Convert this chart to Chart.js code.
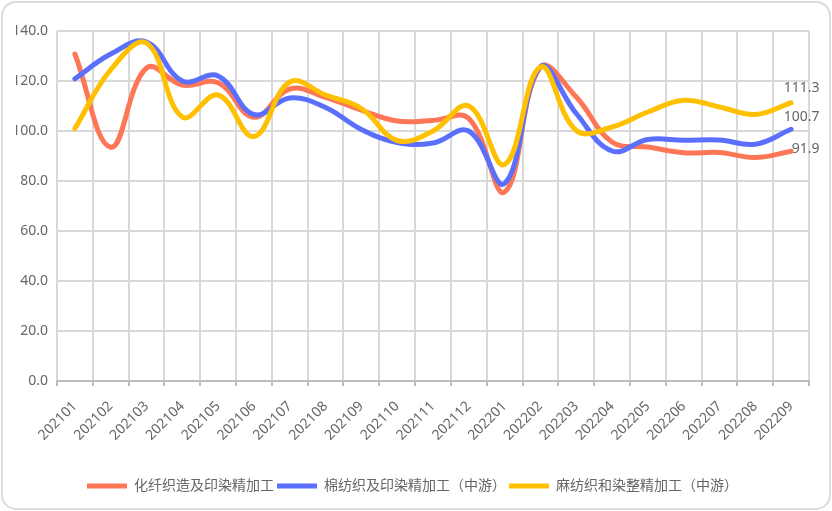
<!DOCTYPE html>
<html>
<head>
<meta charset="utf-8">
<script src="https://cdn.jsdelivr.net/npm/chart.js@4/dist/chart.umd.min.js"></script>
<style>
  body { margin: 0; background: #fff; }
  #wrap { position: relative; width: 832px; height: 511px; }
  #frame {
    position: absolute; left: 1px; top: 1px; width: 830px; height: 509px;
    box-sizing: border-box; border: 2px solid #dcdcdc; border-radius: 15px;
    pointer-events: none;
  }
  canvas { position: absolute; left: 0; top: 0; }
</style>
</head>
<body>
<div id="wrap">
  <canvas id="chart" width="832" height="511"></canvas>
  <div id="frame"></div>
</div>
<script>
// chart values
var months = ["202101", "202102", "202103", "202104", "202105", "202106", "202107",
  "202108", "202109", "202110", "202111", "202112", "202201", "202202", "202203",
  "202204", "202205", "202206", "202207", "202208", "202209"];

var seriesNames = ["化纤织造及印染精加工", "棉纺织及印染精加工（中游）", "麻纺织和染整精加工（中游）"];

var chemFiber = [130.8, 93.5, 125.2, 118.4, 119.3, 105.5, 116.8, 113.5, 108.3, 104.0, 104.2,
  105.0, 75.6, 125.6, 113.6, 95.6, 93.6, 91.3, 91.4, 89.4, 91.9];
var cotton = [120.9, 130.8, 135.6, 120.0, 122.0, 106.6, 113.2, 109.4, 100.6, 95.4, 95.2,
  100.0, 79.0, 125.6, 107.0, 92.0, 96.6, 96.3, 96.4, 94.7, 100.7];
var hemp = [101.0, 124.5, 135.2, 105.6, 114.4, 97.8, 119.6, 114.4, 109.0, 96.2, 100.0,
  110.0, 86.6, 125.6, 100.2, 101.6, 107.6, 112.3, 109.6, 106.6, 111.3];

var yTicks = [0, 20, 40, 60, 80, 100, 120, 140];

// styles
var lineColors = ["#fd7757", "#5b6ffd", "#ffc000"];
var labelShiftY = [-2, -12.5, -15];
var textColor = "#666";
var fontFamily = "'Noto Sans', 'Noto Sans CJK SC', sans-serif";

// end-of-line value labels
var lastValueLabels = {
  id: "lastValueLabels",
  afterDatasetsDraw: function(chart) {
    var ctx = chart.ctx;
    ctx.save();
    ctx.font = "14px " + fontFamily;
    ctx.fillStyle = textColor;
    ctx.textAlign = "right";
    ctx.textBaseline = "middle";
    chart.data.datasets.forEach(function(ds, i) {
      var meta = chart.getDatasetMeta(i);
      var pt = meta.data[meta.data.length - 1];
      var v = ds.data[ds.data.length - 1];
      ctx.fillText(v.toFixed(1), pt.x + 28.5, pt.y + labelShiftY[i]);
    });
    ctx.restore();
  }
};

function makeDataset(name, values, idx) {
  return {
    label: name,
    data: values,
    borderColor: lineColors[idx],
    backgroundColor: lineColors[idx],
    borderWidth: 5,
    borderCapStyle: "round",
    borderJoinStyle: "round",
    pointRadius: 0,
    pointHoverRadius: 0,
    tension: 0.4,
    fill: false,
    order: 2 - idx
  };
}

var ctx = document.getElementById("chart");
var chart = new Chart(ctx, {
  type: "line",
  data: {
    labels: months,
    datasets: [
      makeDataset(seriesNames[0], chemFiber, 0),
      makeDataset(seriesNames[1], cotton, 1),
      makeDataset(seriesNames[2], hemp, 2)
    ]
  },
  plugins: [lastValueLabels],
  options: {
    responsive: false,
    animation: false,
    layout: { padding: { top: 31, right: 23, bottom: 8, left: 16 } },
    plugins: {
      tooltip: { enabled: false },
      legend: {
        position: "bottom",
        labels: {
          usePointStyle: true,
          pointStyle: "line",
          pointStyleWidth: 40,
          padding: 3,
          color: textColor,
          font: { size: 14, family: fontFamily },
          sort: function(a, b) { return a.datasetIndex - b.datasetIndex; }
        }
      }
    },
    scales: {
      x: {
        offset: true,
        grid: {
          offset: true,
          color: "#d9d9d9",
          lineWidth: 2,
          tickLength: 5,
          tickColor: "#bdbdbd"
        },
        border: { color: "#bdbdbd", width: 2 },
        ticks: {
          autoSkip: false,
          minRotation: 45,
          maxRotation: 45,
          padding: 12,
          color: textColor,
          font: { size: 14, family: fontFamily }
        },
        afterFit: function(scale) { scale.height = 95; }
      },
      y: {
        min: 0,
        max: 140,
        afterBuildTicks: function(scale) {
          scale.ticks = yTicks.map(function(v) { return { value: v }; });
        },
        grid: { color: "#d9d9d9", lineWidth: 2, drawTicks: false },
        border: { display: false },
        ticks: {
          padding: 9,
          color: textColor,
          font: { size: 14, family: fontFamily },
          callback: function(v) { return Number(v).toFixed(1); }
        },
        afterFit: function(scale) { scale.width = 41; }
      }
    }
  }
});
</script>
</body>
</html>
